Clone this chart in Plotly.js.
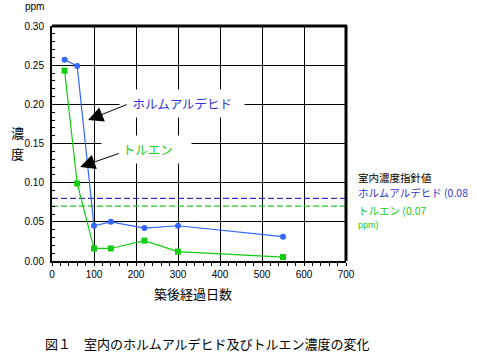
<!DOCTYPE html>
<html>
<head>
<meta charset="utf-8">
<script src="https://cdn.plot.ly/plotly-3.0.1.min.js"></script>
<style>html,body{margin:0;padding:0;background:#fff;}#chart{width:477px;height:359px;}</style>
</head>
<body>
<div id="chart"></div>
<script>
// Data
var days = [30, 60, 100, 140, 220, 300, 550];
var formaldehyde = [0.257, 0.249, 0.045, 0.050, 0.042, 0.045, 0.031];
var toluene = [0.243, 0.099, 0.016, 0.016, 0.026, 0.012, 0.005];
var guideX = [0, 700];
var guideFormaldehyde = [0.08, 0.08];
var guideToluene = [0.07, 0.07];
var xTicks = [0, 100, 200, 300, 400, 500, 600, 700];
var yTicks = [0, 0.05, 0.10, 0.15, 0.20, 0.25, 0.30];

var JP = '"Noto Sans CJK JP", sans-serif';
var SANS = '"Liberation Sans", Arial, sans-serif';
var NB = '\u00a0';

var traces = [
  {x: guideX, y: guideFormaldehyde, mode: 'lines', line: {color: '#3030d0', width: 1.2, dash: '6px,3px'}, hoverinfo: 'skip'},
  {x: guideX, y: guideToluene, mode: 'lines', line: {color: '#22cc22', width: 1.2, dash: '6px,3px'}, hoverinfo: 'skip'},
  {x: days, y: formaldehyde, mode: 'lines+markers', line: {color: '#3366ff', width: 1.2},
   marker: {symbol: 'circle', size: 6, color: '#3366ff'}},
  {x: days, y: toluene, mode: 'lines+markers', line: {color: '#11cc11', width: 1.2},
   marker: {symbol: 'square', size: 6, color: '#11cc11'}}
];

function lbl(x, y, text, font, xanchor) {
  return {xref: 'paper', yref: 'paper', x: x, y: y, text: text, showarrow: false,
          xanchor: xanchor || 'center', yanchor: 'middle', font: font};
}

var layout = {
  width: 477, height: 359,
  margin: {l: 52, r: 131, t: 26, b: 98, pad: 0},
  paper_bgcolor: '#fff', plot_bgcolor: '#fff',
  showlegend: false,
  font: {family: SANS, size: 10, color: '#000'},
  xaxis: {
    range: [0, 700], tickvals: xTicks, ticktext: xTicks.map(String),
    showgrid: true, gridcolor: '#000', gridwidth: 1, zeroline: false,
    showline: true, linecolor: '#000', linewidth: 2, mirror: false,
    ticks: 'outside', ticklen: 3, tickcolor: '#000', tickwidth: 1,
    minor: {dtick: 20, ticks: 'outside', ticklen: 3, tickcolor: '#000', showgrid: false},
    tickfont: {family: SANS, size: 10, color: '#000'}
  },
  yaxis: {
    range: [0, 0.30], tickvals: yTicks, ticktext: yTicks.map(function(v){return v.toFixed(2);}),
    showgrid: true, gridcolor: '#000', gridwidth: 1, zeroline: false,
    showline: true, linecolor: '#000', linewidth: 2, mirror: false,
    ticks: 'inside', ticklen: 3, tickcolor: '#000', tickwidth: 1,
    minor: {dtick: 0.01, ticks: 'inside', ticklen: 3, tickcolor: '#000', showgrid: false},
    ticklabelstandoff: 4,
    tickfont: {family: SANS, size: 10, color: '#000'}
  },
  shapes: [
    {type: 'line', xref: 'paper', yref: 'paper', x0: 0, x1: 1.004, y0: 1, y1: 1, line: {color: '#000', width: 3}},
    {type: 'line', xref: 'paper', yref: 'paper', x0: 1, x1: 1, y0: 0, y1: 1, line: {color: '#000', width: 3}}
  ],
  annotations: [
    {xref: 'x', yref: 'y', x: 310, y: 0.2005, text: NB+NB+NB+'ホルムアルデヒド'+NB+NB+NB, showarrow: false,
     xanchor: 'center', yanchor: 'middle',
     font: {family: JP, size: 12.5, color: '#3535d5'}, bgcolor: '#fff', borderpad: 4},
    {xref: 'x', yref: 'y', x: 225, y: 0.1418, text: NB+NB+NB+NB+NB+NB+'トルエン'+NB+NB+NB+NB+NB, showarrow: false,
     xanchor: 'center', yanchor: 'middle',
     font: {family: JP, size: 12.5, color: '#22cc22'}, bgcolor: '#fff', borderpad: 4},
    // arrows
    {xref: 'x', yref: 'y', x: 86, y: 0.180, ax: 40, ay: -16, text: '', showarrow: true,
     arrowhead: 2, arrowsize: 3, arrowwidth: 1, arrowcolor: '#000', standoff: 0},
    {xref: 'x', yref: 'y', x: 67, y: 0.120, ax: 40, ay: -14, text: '', showarrow: true,
     arrowhead: 2, arrowsize: 3, arrowwidth: 1, arrowcolor: '#000', standoff: 0},
    // axis labels
    lbl(-0.058, 1.085, 'ppm', {family: SANS, size: 10, color: '#000'}),
    lbl(-0.116, 0.547, '濃', {family: JP, size: 13, color: '#000'}),
    lbl(-0.116, 0.458, '度', {family: JP, size: 13, color: '#000'}),
    lbl(0.48, -0.14, '築後経過日数', {family: JP, size: 13, color: '#000'}),
    lbl(0.528, -0.349, '図１　室内のホルムアルデヒド及びトルエン濃度の変化', {family: JP, size: 13, color: '#000'}),
    // guideline legend text
    lbl(1.034, 0.357, '室内濃度指針値', {family: JP, size: 10.5, color: '#000'}, 'left'),
    lbl(1.034, 0.292, 'ホルムアルデヒド (0.08', {family: JP, size: 10.5, color: '#3535d5'}, 'left'),
    lbl(1.034, 0.217, 'トルエン (0.07', {family: JP, size: 10.5, color: '#22cc22'}, 'left'),
    lbl(1.034, 0.153, 'ppm)', {family: SANS, size: 9, color: '#22cc22'}, 'left')
  ]
};

Plotly.newPlot('chart', traces, layout, {displayModeBar: false, staticPlot: true});
</script>
</body>
</html>
